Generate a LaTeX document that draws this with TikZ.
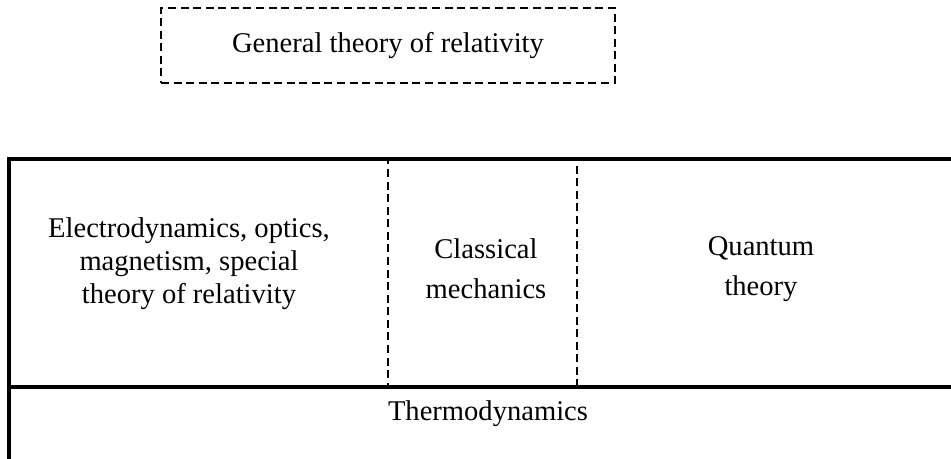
\documentclass[tikz,border=0pt]{standalone}
\usepackage{fontspec}
\setmainfont{Liberation Serif}
\usepackage{tikz}
\usetikzlibrary{positioning}

\begin{document}
\begin{tikzpicture}[x=0.35pt, y=-0.35pt,
    field/.style={align=center, font=\fontsize{10}{14}\selectfont},
    dashbox/.style={draw, line width=0.85pt, dash pattern=on 2.8pt off 1.6pt, inner sep=0pt},
    frame/.style={line width=1.1pt}]
  \useasboundingbox (0,0) rectangle (951,459);

  % corners of the outer frame
  \coordinate (topleft) at (9,159);
  \coordinate (topright) at (965,159);
  \coordinate (midleft) at (9,387);
  \coordinate (midright) at (965,387);
  \coordinate (bottomleft) at (9,470);

  \node[dashbox, field, minimum width=158.9pt, minimum height=26.25pt] (general) at (388,45.5) {General theory of relativity};

  \node[dashbox, minimum width=66.15pt, minimum height=79.8pt] (mechbox) at (482.5,273) {};
  \node[field, font=\fontsize{10}{11.55}\selectfont] (electro) at (189,264) {Electrodynamics, optics,\\magnetism, special\\theory of relativity};
  \node[field] (mech) at (486,269) {Classical\\mechanics};
  \node[field] (quantum) at (761,269) {Quantum\\ theory};
  \node[field] (thermo) at (488,414) {Thermodynamics};

  \draw[frame] (topright) -- (topleft) -- (bottomleft);
  \draw[frame] (midleft) -- (midright);
\end{tikzpicture}
\end{document}
